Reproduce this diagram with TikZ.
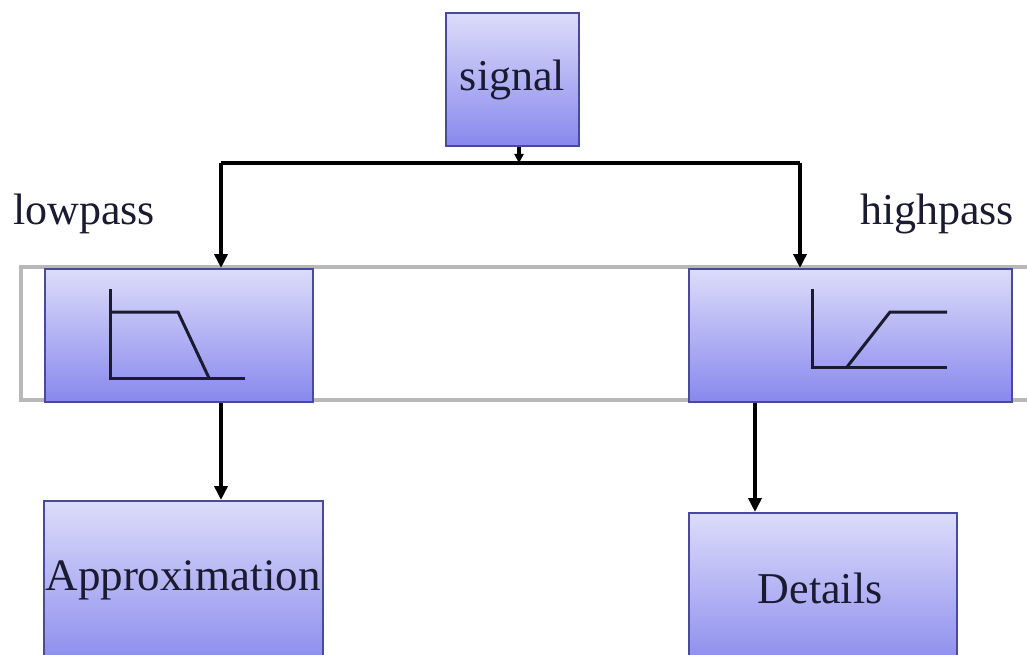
\documentclass[tikz,border=0pt]{standalone}
\usepackage{fontspec}
\setmainfont{Liberation Serif}
\usetikzlibrary{arrows.meta}
\definecolor{boxtop}{HTML}{DCDCFA}
\definecolor{boxbot}{HTML}{8888EE}
\definecolor{boxline}{HTML}{4A4A9A}
\definecolor{bandgray}{HTML}{B8B8B8}
\definecolor{txt}{HTML}{1A1A30}
\tikzset{
  fbox/.style={draw=boxline, line width=2pt, top color=boxtop, bottom color=boxbot,
    minimum width=#1, inner sep=0pt, text=txt, font=\fontsize{44}{48}\selectfont},
  lbl/.style={text=txt, font=\fontsize{44}{48}\selectfont, inner sep=0pt},
  arr/.style={draw=black, line width=3.6pt, -{Triangle[length=14pt,width=13pt]}},
  icon/.style={draw=txt, line width=3pt},
}
\begin{document}
\begin{tikzpicture}[x=1pt,y=-1pt]
\useasboundingbox (0,0) rectangle (1027,655);
\clip (0,0) rectangle (1027,655);
\fill[white] (0,0) rectangle (1027,655);
% band
\draw[bandgray, line width=3.5pt] (1040,267) -- (21,267) -- (21,400) -- (1040,400);
% boxes
\node[fbox=133pt, minimum height=133pt, anchor=north west] (sig) at (445,12) {signal};
\node[fbox=268pt, minimum height=133pt, anchor=north west] (low) at (44,268) {};
\node[fbox=323pt, minimum height=133pt, anchor=north west] (high) at (688,268) {};
\node[fbox=279pt, minimum height=170pt, anchor=north west] (appr) at (43,500) {};
\node[fbox=268pt, minimum height=160pt, anchor=north west] (det) at (688,512) {};
\node[text=txt, font=\fontsize{45}{48}\selectfont, inner sep=0pt] (apprt) at (183,580) {Approximation};
\node[text=txt, font=\fontsize{44}{48}\selectfont, inner sep=0pt] (dett) at (820,588) {Details};
% labels
\node[lbl] (lp) at (84,214) {lowpass};
\node[lbl] (hp) at (937,214) {highpass};
% icons
\draw[icon] (110,289) -- (110,378) -- (245,378);
\draw[icon] (110,312) -- (178,312) -- (209,378);
\draw[icon] (812,289) -- (812,367) -- (947,367);
\draw[icon] (847,367) -- (890,312) -- (947,312);
% connectors
\coordinate (J) at (519,163);
\coordinate (lx) at (221,0);
\coordinate (hx) at (800,0);
\coordinate (dx) at (755,0);
\draw[arr, -{Triangle[length=9pt,width=9pt]}] (sig.south -| J) -- (J);
\draw[line width=3.6pt] (lx |- J) -- (hx |- J);
\draw[arr] (lx |- J) -- (lx |- low.north);
\draw[arr] (hx |- J) -- (hx |- high.north);
\draw[arr] (lx |- low.south) -- (lx |- appr.north);
\draw[arr] (dx |- high.south) -- (dx |- det.north);
\end{tikzpicture}
\end{document}
